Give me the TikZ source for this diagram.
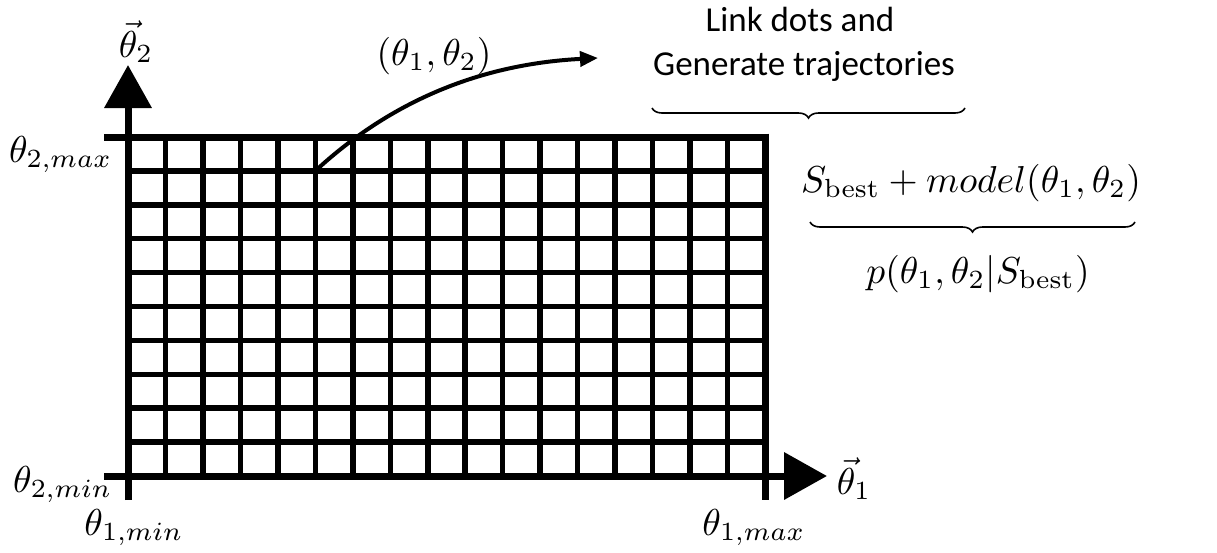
\documentclass[tikz,border=0pt]{standalone}
\usepackage{amsmath}
\usepackage{fontspec}
\newfontfamily\carlito{Carlito}
\usetikzlibrary{arrows.meta,decorations.pathreplacing}
\begin{document}
\begin{tikzpicture}[x=1pt,y=-1pt,
  gridline/.style={line width=5.5pt},
  axisline/.style={line width=7pt},
  axisarrow/.style={axisline,-{Triangle[length=43pt,width=46pt]}},
  mathlbl/.style={inner sep=0pt,font=\normalsize,scale=3.75},
  txt/.style={inner sep=0pt,font=\carlito\fontsize{35}{40}\selectfont},
  bracedeco/.style={decorate,decoration={brace,mirror,amplitude=10pt},line width=1.6pt},
  trajarrow/.style={line width=4pt,-{Triangle[length=18pt,width=15pt]}}]
\useasboundingbox (0,0) rectangle (1217,552);
\fill[white] (0,0) rectangle (1217,552);
% grid geometry
\def\gl{128}\def\gr{765}\def\gt{137}\def\gb{476}
\coordinate (ul) at (\gl,\gt);
\coordinate (ur) at (\gr,\gt);
\coordinate (ll) at (\gl,\gb);
\coordinate (lr) at (\gr,\gb);
% inner vertical lines
\foreach \i in {1,...,16}{
  \draw[gridline] ({\gl+\i*(\gr-\gl)/17},\gt) -- ({\gl+\i*(\gr-\gl)/17},\gb);
}
% inner horizontal lines
\foreach \j in {1,...,9}{
  \draw[gridline] (\gl,{\gt+\j*(\gb-\gt)/10}) -- (\gr,{\gt+\j*(\gb-\gt)/10});
}
% outer top and right lines with ticks
\coordinate (tl) at (104,\gt);
\coordinate (tr) at (768.5,\gt);
\draw[axisline] (tl) -- (tr);
\coordinate (rt) at (\gr,133.5);
\coordinate (rb) at (\gr,500);
\draw[axisline] (rt) -- (rb);
% axes
\coordinate (xstart) at (104,\gb);
\coordinate (xtip) at (827,\gb);
\draw[axisarrow] (xstart) -- (xtip);
\coordinate (ystart) at (\gl,500);
\coordinate (ytip) at (\gl,65);
\draw[axisarrow] (ystart) -- (ytip);
% labels
\node[mathlbl,anchor=base west] (y2) at (118,57) {$\vec{\theta}_2$};
\node[mathlbl,anchor=base west] (x1) at (836,494) {$\vec{\theta}_1$};
\node[mathlbl,anchor=base east] (t2max) at (113,162) {$\theta_{2,max}$};
\node[mathlbl,anchor=base east] (t2min) at (113,492) {$\theta_{2,min}$};
\node[mathlbl,anchor=base] (t1min) at (134,535) {$\theta_{1,min}$};
\node[mathlbl,anchor=base] (t1max) at (754,535) {$\theta_{1,max}$};
\node[mathlbl,anchor=base] (pt) at (434,65) {$(\theta_1,\theta_2)$};
% trajectory arrow
\coordinate (start) at ({\gl+5*(\gr-\gl)/17},{\gt+(\gb-\gt)/10});
\coordinate (end) at (598,58);
\draw[trajarrow] (start) .. controls (392,100) and (482,64) .. (end);
% right texts
\node[txt,anchor=base] (link) at (800,31) {Link dots and};
\node[txt,anchor=base] (gen) at (804,75) {Generate trajectories};
\coordinate (b1l) at (652,108);
\coordinate (b1r) at (965,108);
\draw[bracedeco] (b1l) -- (b1r);
\node[mathlbl,anchor=base] (model) at (971,192) {$S_{\text{best}}+model(\theta_1,\theta_2)$};
\coordinate (b2l) at (810,222);
\coordinate (b2r) at (1135,222);
\draw[bracedeco] (b2l) -- (b2r);
\node[mathlbl,anchor=base] (post) at (978,283) {$p(\theta_1,\theta_2|S_{\text{best}})$};
\end{tikzpicture}
\end{document}
